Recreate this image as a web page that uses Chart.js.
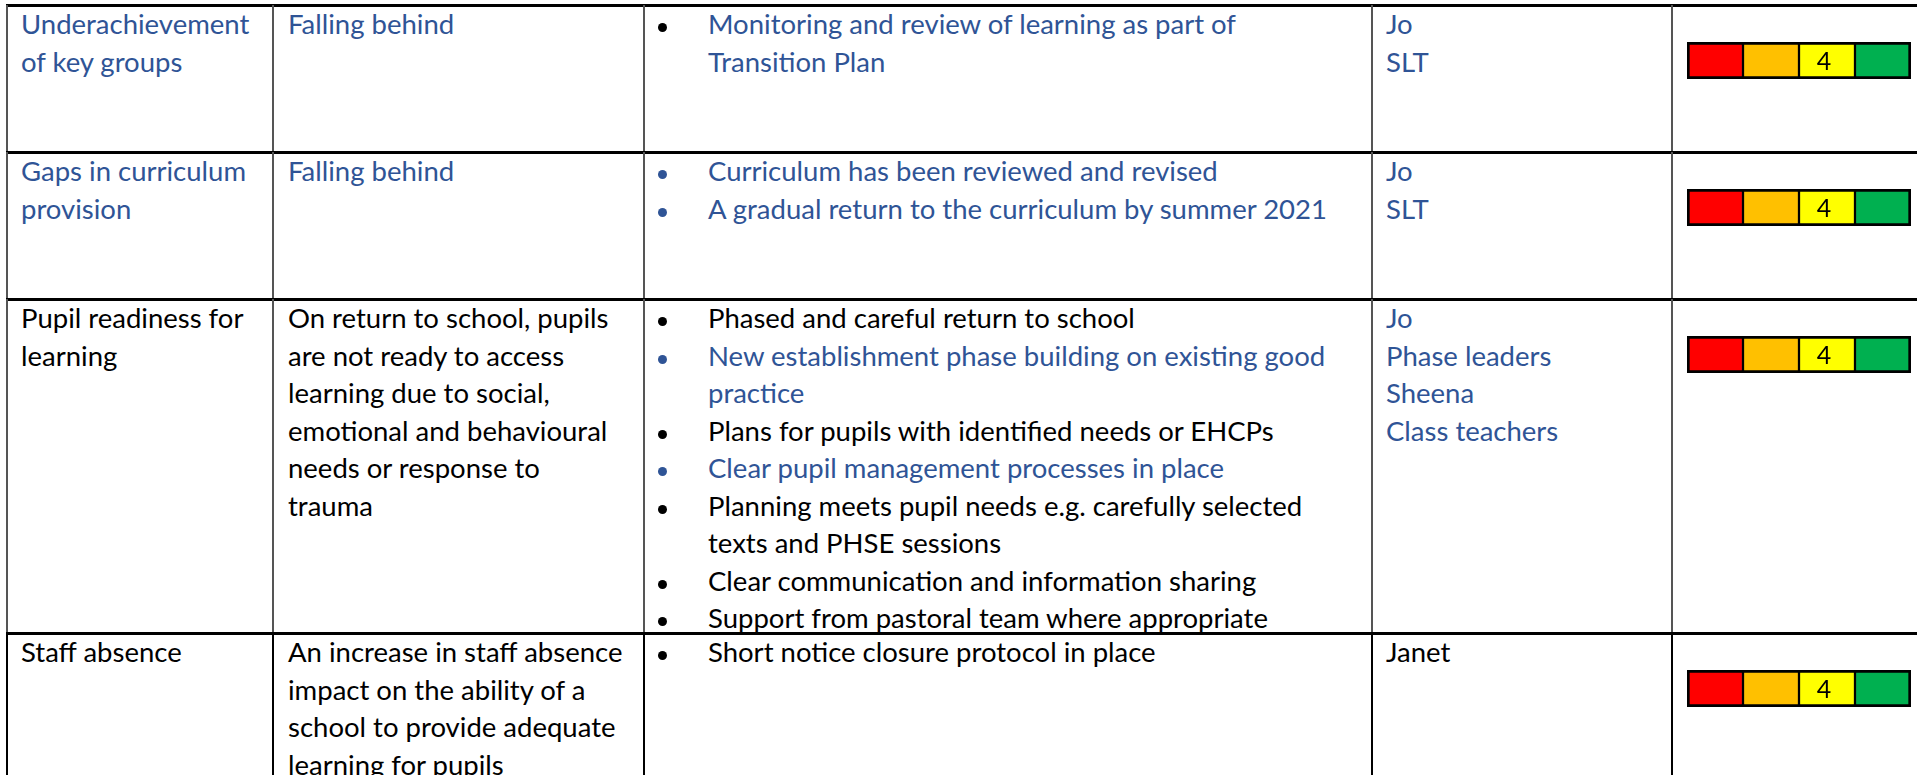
<!DOCTYPE html>
<html>
<head>
<meta charset="utf-8">
<script src="https://cdn.jsdelivr.net/npm/chart.js@4.4.0/dist/chart.umd.min.js"></script>
<style>
  html, body { margin: 0; padding: 0; background: #fff; overflow: hidden; }
  body { width: 1917px; height: 775px; position: relative; font-family: Lato, "Noto Sans", sans-serif; }
  .cell { position: absolute; white-space: pre-line; font-size: 27.5px; line-height: 37.5px; color: #000; }
  .blue { color: #2F5496; }
  .item { position: relative; }
  .dot { position: absolute; left: -50px; top: 18px; width: 9px; height: 9px; border-radius: 50%; background: #000; }
  .dot.blue { background: #2F5496; }
  .hline { position: absolute; height: 3px; background: #000; }
  .vline { position: absolute; width: 2px; background: #555; }
  .rag { position: absolute; }
</style>
</head>
<body>
<script>
// risk register rows
const risks = ['Underachievement\nof key groups', 'Gaps in curriculum\nprovision', 'Pupil readiness for\nlearning', 'Staff absence'];
const riskBlue = [true, true, false, false];

const impacts = [
  'Falling behind',
  'Falling behind',
  'On return to school, pupils\nare not ready to access\nlearning due to social,\nemotional and behavioural\nneeds or response to\ntrauma',
  'An increase in staff absence\nimpact on the ability of a\nschool to provide adequate\nlearning for pupils'
];
const impactBlue = [true, true, false, false];

// actions: [text, text blue?, bullet blue?]
const actions = [
  [['Monitoring and review of learning as part of\nTransition Plan', true, false]],
  [['Curriculum has been reviewed and revised', true, true],
   ['A gradual return to the curriculum by summer 2021', true, true]],
  [['Phased and careful return to school', false, false],
   ['New establishment phase building on existing good\npractice', true, true],
   ['Plans for pupils with identified needs or EHCPs', false, false],
   ['Clear pupil management processes in place', true, true],
   ['Planning meets pupil needs e.g. carefully selected\ntexts and PHSE sessions', false, false],
   ['Clear communication and information sharing', false, false],
   ['Support from pastoral team where appropriate', false, false]],
  [['Short notice closure protocol in place', false, false]]
];

const leads = ['Jo\nSLT', 'Jo\nSLT', 'Jo\nPhase leaders\nSheena\nClass teachers', 'Janet'];
const leadBlue = [true, true, true, false];

// RAG scale: four equal bands, rating shown in one of them
const ragBands = ['Red', 'Amber', 'Yellow', 'Green'];
const ragWidths = [1, 1, 1, 1];
const ratings = [4, 4, 4, 4];
const ratingBand = [2, 2, 2, 2];

// layout / style
const ragColors = ['#FF0000', '#FFC000', '#FFFF00', '#00B050'];
const rowTops = [5, 152, 299, 633, 900];
const colX = [7, 273, 644, 1372, 1672, 1990];

function el(cls, css, text) {
  const d = document.createElement('div');
  d.className = cls;
  Object.assign(d.style, css);
  if (text !== undefined) d.textContent = text;
  document.body.appendChild(d);
  return d;
}

// grid lines
for (let r = 0; r < 4; r++) {
  el('hline', { left: (colX[0] - 1) + 'px', top: (rowTops[r] - 1) + 'px', width: '1930px' });
  for (let c = 0; c < 5; c++) {
    const v = el('vline', {
      left: (colX[c] - 1) + 'px',
      top: rowTops[r] + 'px',
      height: (rowTops[r + 1] - rowTops[r]) + 'px'
    });
    if (r === 3) v.style.background = '#000';
  }
}

const ratingLabel = {
  id: 'ratingLabel',
  afterDatasetsDraw(chart, args, opts) {
    const bar = chart.getDatasetMeta(opts.band).data[0];
    const ctx = chart.ctx;
    ctx.save();
    ctx.font = '25px Lato';
    ctx.fillStyle = '#000';
    ctx.textAlign = 'center';
    ctx.textBaseline = 'middle';
    ctx.fillText(String(opts.value), (bar.x + bar.base) / 2 - 3, bar.y + 1);
    ctx.restore();
  }
};

for (let r = 0; r < 4; r++) {
  const top = rowTops[r];
  el('cell' + (riskBlue[r] ? ' blue' : ''), { left: (colX[0] + 14) + 'px', top: top + 'px' }, risks[r]);
  el('cell' + (impactBlue[r] ? ' blue' : ''), { left: (colX[1] + 15) + 'px', top: top + 'px' }, impacts[r]);

  const box = el('cell', { left: '708px', top: top + 'px', width: '660px' });
  for (const [text, blue, dotBlue] of actions[r]) {
    const it = document.createElement('div');
    it.className = 'item' + (blue ? ' blue' : '');
    it.textContent = text;
    const dot = document.createElement('span');
    dot.className = 'dot' + (dotBlue ? ' blue' : '');
    it.appendChild(dot);
    box.appendChild(it);
  }

  el('cell' + (leadBlue[r] ? ' blue' : ''), { left: (colX[3] + 14) + 'px', top: top + 'px' }, leads[r]);

  // RAG bar
  const wrap = el('rag', { left: '1687px', top: (rowTops[r] + 37) + 'px', width: '224px', height: '37px' });
  const cv = document.createElement('canvas');
  cv.width = 224;
  cv.height = 37;
  wrap.appendChild(cv);

  new Chart(cv, {
    type: 'bar',
    data: {
      labels: [risks[r]],
      datasets: ragBands.map((band, i) => ({
        label: band,
        data: [ragWidths[i]],
        backgroundColor: ragColors[i],
        borderColor: '#000',
        borderWidth: { top: 3, bottom: 3, left: i === 0 ? 3 : 1.5, right: i === ragBands.length - 1 ? 3 : 1.5 },
        borderSkipped: false,
        barPercentage: 1,
        categoryPercentage: 1
      }))
    },
    options: {
      indexAxis: 'y',
      responsive: false,
      animation: false,
      layout: { padding: 0 },
      scales: {
        x: { stacked: true, display: false, min: 0, max: ragWidths.reduce((a, b) => a + b, 0) },
        y: { stacked: true, display: false }
      },
      plugins: {
        legend: { display: false },
        tooltip: { enabled: false },
        ratingLabel: { band: ratingBand[r], value: ratings[r] }
      }
    },
    plugins: [ratingLabel]
  });
}
</script>
</body>
</html>
